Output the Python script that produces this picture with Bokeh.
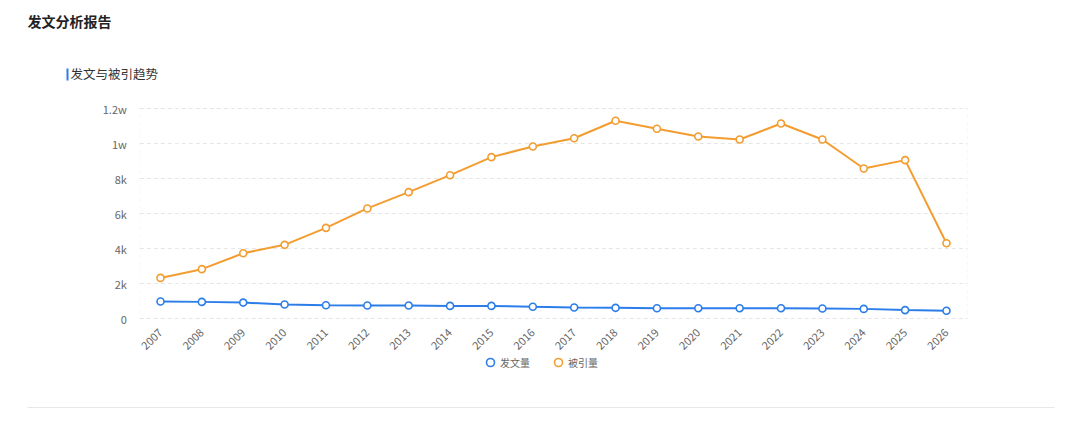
from bokeh.plotting import figure
from bokeh.models import (Range1d, FixedTicker, Label, Legend, LegendItem,
                          BoxAnnotation, ColumnDataSource)
from bokeh.embed import file_html
from bokeh.resources import INLINE
from math import pi

years = list(range(2007, 2027))
papers = [970, 950, 910, 800, 760, 740, 740, 720, 720, 670,
          630, 610, 590, 590, 590, 590, 570, 550, 480, 440]
citations = [2320, 2820, 3730, 4210, 5180, 6290, 7220, 8190, 9220, 9830,
             10300, 11300, 10840, 10400, 10230, 11140, 10230, 8570, 9050, 4300]
y_ticks = [0, 2000, 4000, 6000, 8000, 10000, 12000]
y_tick_labels = ["0", "2k", "4k", "6k", "8k", "1w", "1.2w"]
series_names = ["发文量", "被引量"]
title_text = "发文分析报告"
subtitle_text = "发文与被引趋势"

BLUE = "#2b7de9"
ORANGE = "#f39c2f"
FONT = "Noto Sans CJK SC"

# layout (canvas pixels)
W, H = 1064, 415
PX_FIRST, PX_LAST = 160.0, 946.0        # centre of first / last category
PY_ZERO, PY_TOP = 318.0, 108.0          # y of value 0 / of top tick
step = (PX_LAST - PX_FIRST) / (len(years) - 1)
x0 = years[0] - PX_FIRST / step
x1 = years[0] + (W - PX_FIRST) / step
vpp = y_ticks[-1] / (PY_ZERO - PY_TOP)  # value per pixel
y0 = -(H - PY_ZERO) * vpp
y1 = PY_ZERO * vpp

p = figure(width=W, height=H, x_range=Range1d(x0, x1), y_range=Range1d(y0, y1),
           output_backend="svg", toolbar_location=None,
           min_border_left=0, min_border_right=0, min_border_top=0, min_border_bottom=0)
p.background_fill_color = "white"
p.border_fill_color = "white"
p.outline_line_color = None
p.xgrid.grid_line_color = None
p.ygrid.grid_line_color = None

left_edge = years[0] - 0.5
right_edge = years[-1] + 0.5

# dashed grid lines and plot-area border
p.segment(x0=[left_edge] * len(y_ticks), x1=[right_edge] * len(y_ticks), y0=y_ticks, y1=y_ticks,
          line_color="#e6e6e6", line_width=1, line_dash="4 3")
p.add_layout(BoxAnnotation(left=left_edge, right=right_edge, bottom=y_ticks[0], top=y_ticks[-1],
                           fill_alpha=0, line_color="#e6e6e6", line_width=1, line_dash="4 3"))

src = ColumnDataSource(dict(x=years, papers=papers, cites=citations))
l1 = p.line("x", "papers", source=src, line_color=BLUE, line_width=2)
c1 = p.scatter("x", "papers", source=src, size=7, fill_color="white", line_color=BLUE, line_width=1.6)
l2 = p.line("x", "cites", source=src, line_color=ORANGE, line_width=2)
c2 = p.scatter("x", "cites", source=src, size=7, fill_color="white", line_color=ORANGE, line_width=1.6)

p.yaxis.fixed_location = left_edge
p.yaxis.bounds = (y_ticks[0], y_ticks[-1])
p.yaxis.ticker = FixedTicker(ticks=y_ticks)
p.yaxis.major_label_overrides = {t: l for t, l in zip(y_ticks, y_tick_labels)}
p.yaxis.axis_line_color = None
p.yaxis.major_tick_line_color = None
p.yaxis.minor_tick_line_color = None
p.yaxis.major_label_text_color = "#666666"
p.yaxis.major_label_text_font = FONT
p.yaxis.major_label_text_font_size = "11px"
p.yaxis.major_label_standoff = 7

p.xaxis.fixed_location = 0
p.xaxis.bounds = (left_edge, right_edge)
p.xaxis.ticker = FixedTicker(ticks=years)
p.xaxis.major_label_overrides = {y: str(y) for y in years}
p.xaxis.axis_line_color = None
p.xaxis.major_tick_line_color = None
p.xaxis.minor_tick_line_color = None
p.xaxis.major_label_orientation = pi / 4
p.xaxis.major_label_text_color = "#666666"
p.xaxis.major_label_text_font = FONT
p.xaxis.major_label_text_font_size = "11px"
p.xaxis.major_label_standoff = 6

legend = Legend(items=[LegendItem(label=series_names[0], renderers=[c1]),
                       LegendItem(label=series_names[1], renderers=[c2])],
                orientation="horizontal", location=(480, 43),
                label_text_font=FONT, label_text_font_size="10px", label_text_color="#666666",
                glyph_width=20, glyph_height=20, spacing=18, label_standoff=0,
                background_fill_alpha=0, border_line_color=None, padding=0, margin=0)
p.add_layout(legend, "center")

# texts and decorations in canvas pixels (x from left, y up from bottom)
p.add_layout(Label(x=27, y=H - 30, x_units="screen", y_units="screen", text=title_text,
                   text_font=FONT, text_font_size="14px", text_font_style="bold",
                   text_color="#222222"))
p.add_layout(Label(x=70, y=H - 82, x_units="screen", y_units="screen", text=subtitle_text,
                   text_font=FONT, text_font_size="12.5px", text_color="#333333"))
p.add_layout(BoxAnnotation(left=66, right=68, top=H - 68, bottom=H - 80,
                           left_units="screen", right_units="screen",
                           top_units="screen", bottom_units="screen",
                           fill_color=BLUE, fill_alpha=1, line_color=None))
p.add_layout(BoxAnnotation(left=27, right=1054, top=H - 406.5, bottom=H - 407.5,
                           left_units="screen", right_units="screen",
                           top_units="screen", bottom_units="screen",
                           fill_color="#e8e8e8", fill_alpha=1, line_color=None))

open("out.html", "w").write(file_html(p, INLINE))
